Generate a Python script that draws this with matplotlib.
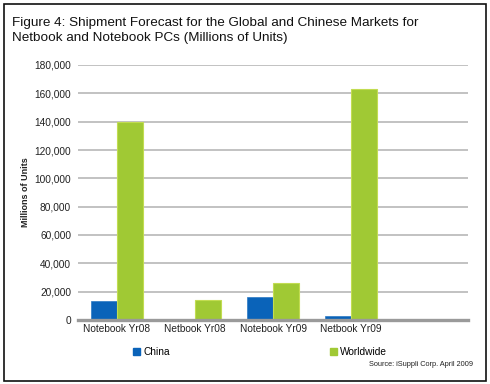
import matplotlib
matplotlib.use("Agg")
import matplotlib.pyplot as plt
import matplotlib.patches as mpatches
from matplotlib.ticker import FuncFormatter, MultipleLocator
import numpy as np

categories = ["Notebook Yr08", "Netbook Yr08", "Notebook Yr09", "Netbook Yr09"]
china = [13600, 0, 16500, 3000]
worldwide = [140000, 14000, 26000, 163000]
series_names = ["China", "Worldwide"]
title_lines = ["Figure 4: Shipment Forecast for the Global and Chinese Markets for",
               "Netbook and Notebook PCs (Millions of Units)"]
ylabel = "Millions of Units"
source = "Source: iSuppli Corp. April 2009"

plt.rcParams['font.family'] = ['Liberation Sans', 'DejaVu Sans']

W, H = 490, 384
fig = plt.figure(figsize=(W / 100, H / 100), dpi=100)
ax = fig.add_axes([78 / W, 1 - 320 / H, (468 - 78) / W, (320 - 65) / H])

blue = "#0a63b9"
green = "#a0c934"
x = np.arange(len(categories))
bw = 0.335
ax.bar(x - bw / 2, china, bw, color=blue, edgecolor="#2a78c4", linewidth=0.5, zorder=3, label=series_names[0])
ax.bar(x + bw / 2, worldwide, bw, color=green, edgecolor="#c2dc52", linewidth=0.8, zorder=3, label=series_names[1])

ax.set_xlim(-0.5, 4.5)
ax.set_ylim(0, 180000)
ax.yaxis.set_major_locator(MultipleLocator(20000))
ax.yaxis.set_major_formatter(FuncFormatter(lambda v, p: f"{int(v):,}"))
ax.set_xticks(x)
ax.set_xticklabels(categories, fontsize=7.3, color="#222222")
ax.tick_params(axis='both', length=0)
ax.tick_params(axis='y', labelsize=7.3, pad=5, labelcolor="#222222")
ax.tick_params(axis='x', pad=3)
for s in ax.spines.values():
    s.set_visible(False)
ax.grid(axis='y', color="#b8b8b8", linewidth=1.2, zorder=0)
ax.axhline(0, color="#9a9a9a", linewidth=2.4, zorder=4, clip_on=False)

fig.text(25 / W, 1 - 192 / H, ylabel, rotation=90, ha='center', va='center',
         fontsize=6.5, fontweight='bold', color="#222222")

fig.text(12 / W, 1 - 26 / H, title_lines[0], fontsize=9.7, va='baseline', ha='left', color="#111111")
fig.text(12 / W, 1 - 41.5 / H, title_lines[1], fontsize=9.7, va='baseline', ha='left', color="#111111")

handles = [mpatches.Patch(color=blue, label=series_names[0]),
           mpatches.Patch(color=green, label=series_names[1])]
fig.legend(handles=handles, loc='center left', bbox_to_anchor=(133 / W, 1 - 352 / H), ncol=2,
           frameon=False, fontsize=7.3, handlelength=0.7, handleheight=0.7,
           handletextpad=0.3, columnspacing=15.8, borderpad=0, borderaxespad=0)

fig.text(473 / W, 1 - 365 / H, source, fontsize=5.3, ha='right', va='center', color="#222222")

fig.add_artist(mpatches.Rectangle((4 / W, 3 / H), 482 / W, 377 / H, transform=fig.transFigure,
                                  fill=False, edgecolor="#111111", linewidth=1.2))

fig.savefig("out.png", dpi=100)
